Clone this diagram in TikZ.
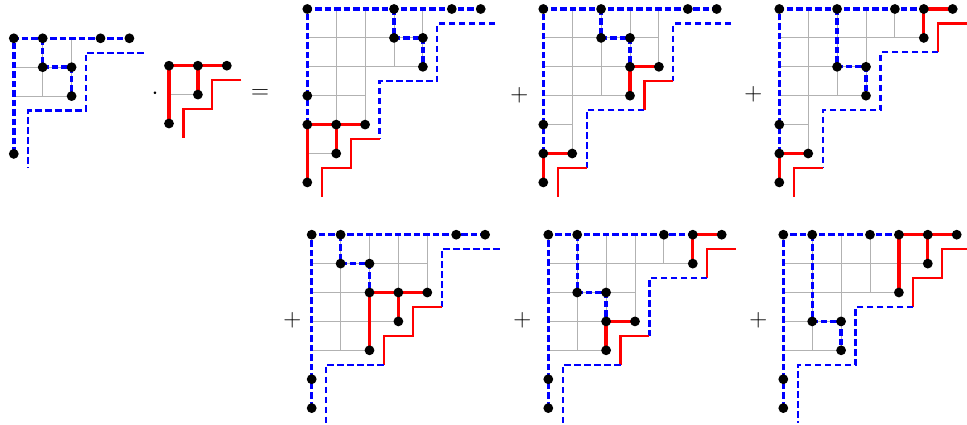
\documentclass[tikz,border=0pt]{standalone}
\begin{document}
\begin{tikzpicture}[x=1pt,y=-1pt,
 gridl/.style={gray!60, line width=1pt},
 bthick/.style={blue, line width=3.4pt, dash pattern=on 6.5pt off 3pt},
 rthick/.style={red, line width=3.3pt},
 bthin/.style={blue, line width=2.2pt, dash pattern=on 6.5pt off 3.5pt},
 rthin/.style={red, line width=2.2pt},
 sym/.style={font=\fontsize{26}{30}\selectfont, inner sep=0pt}]
\newcommand\pdgrid[2]{%
  \foreach \m [count=\r] in {#1} \draw[gridl] (0,\r) -- (\m,\r);
  \foreach \h [count=\c] in {#2} \draw[gridl] (\c,0) -- (\c,\h);}
\newcommand\pddots[1]{\foreach \p in {#1} \fill[black] \p circle (4.9pt);}
\path[use as bounding box] (0,0) rectangle (967,425);

% first factor
\begin{scope}[shift={(13.8pt,-38.3pt)}, x=28.9pt, y=-28.9pt]
 \pdgrid{2,2}{2,2}
 \draw[bthick] (0,4) -- (0,0) -- (4,0);
 \draw[bthick] (1,0) -- (1,1) -- (2,1) -- (2,2);
 \draw[bthin] (4.5,.5) -- (2.5,.5) -- (2.5,2.5) -- (.5,2.5) -- (.5,4.5);
 \pddots{(0,0),(1,0),(3,0),(4,0),(1,1),(2,1),(2,2),(0,4)}
\end{scope}

\node[sym] (dot) at (155,94) {$\cdot$};

% second factor
\begin{scope}[shift={(169pt,-65.7pt)}, x=28.9pt, y=-28.9pt]
 \pdgrid{1}{1}
 \draw[rthick] (0,2) -- (0,0) -- (2,0);
 \draw[rthick] (1,0) -- (1,1);
 \draw[rthin] (2.5,.5) -- (1.5,.5) -- (1.5,1.5) -- (.5,1.5) -- (.5,2.5);
 \pddots{(0,0),(1,0),(2,0),(1,1),(0,2)}
\end{scope}

\node[sym] (eq) at (260,94) {$=$};

% D3
\begin{scope}[shift={(307.3pt,-9pt)}, x=28.9pt, y=-28.9pt]
 \pdgrid{4,4,2,2,1}{5,4,2,2}
 \draw[bthick] (0,4) -- (0,0) -- (6,0);
 \draw[bthick] (3,0) -- (3,1) -- (4,1) -- (4,2);
 \draw[rthick] (0,6) -- (0,4) -- (2,4);
 \draw[rthick] (1,4) -- (1,5);
 \draw[bthin] (6.5,.5) -- (4.5,.5) -- (4.5,2.5) -- (2.5,2.5) -- (2.5,4.5);
 \draw[rthin] (2.5,4.5) -- (1.5,4.5) -- (1.5,5.5) -- (.5,5.5) -- (.5,6.5);
 \pddots{(0,0),(3,0),(5,0),(6,0),(3,1),(4,1),(4,2),(0,3),(0,4),(1,4),(2,4),(1,5),(0,6)}
\end{scope}

\node[sym] (p1) at (519.3,95) {$+$};

% D4
\begin{scope}[shift={(543.3pt,-9pt)}, x=28.9pt, y=-28.9pt]
 \pdgrid{4,4,3,1,1}{5,3,3,2}
 \draw[bthick] (0,5) -- (0,0) -- (6,0);
 \draw[bthick] (2,0) -- (2,1) -- (3,1) -- (3,2);
 \draw[rthick] (4,2) -- (3,2) -- (3,3);
 \draw[rthick] (1,5) -- (0,5) -- (0,6);
 \draw[bthin] (6.5,.5) -- (4.5,.5) -- (4.5,2.5);
 \draw[rthin] (4.5,2.5) -- (3.5,2.5) -- (3.5,3.5);
 \draw[bthin] (3.5,3.5) -- (1.5,3.5) -- (1.5,5.5);
 \draw[rthin] (1.5,5.5) -- (.5,5.5) -- (.5,6.5);
 \pddots{(0,0),(2,0),(5,0),(6,0),(2,1),(3,1),(3,2),(4,2),(3,3),(0,4),(0,5),(1,5),(0,6)}
\end{scope}

\node[sym] (p2) at (753.3,94.3) {$+$};

% D5
\begin{scope}[shift={(779.3pt,-9pt)}, x=28.9pt, y=-28.9pt]
 \pdgrid{5,3,3,1,1}{5,3,3,1,1}
 \draw[bthick] (0,5) -- (0,0) -- (5,0);
 \draw[bthick] (2,0) -- (2,2) -- (3,2) -- (3,3);
 \draw[rthick] (6,0) -- (5,0) -- (5,1);
 \draw[rthick] (1,5) -- (0,5) -- (0,6);
 \draw[rthin] (6.5,.5) -- (5.5,.5) -- (5.5,1.5);
 \draw[bthin] (5.5,1.5) -- (3.5,1.5) -- (3.5,3.5) -- (1.5,3.5) -- (1.5,5.5);
 \draw[rthin] (1.5,5.5) -- (.5,5.5) -- (.5,6.5);
 \pddots{(0,0),(2,0),(4,0),(5,0),(6,0),(5,1),(2,2),(3,2),(3,3),(0,4),(0,5),(1,5),(0,6)}
\end{scope}

\node[sym] (p3) at (292.3,320) {$+$};

% D6
\begin{scope}[shift={(311.7pt,-234.7pt)}, x=28.9pt, y=-28.9pt]
 \pdgrid{4,4,3,2}{4,4,3,2}
 \draw[bthick] (0,6) -- (0,0) -- (6,0);
 \draw[bthick] (1,0) -- (1,1) -- (2,1) -- (2,2);
 \draw[rthick] (4,2) -- (2,2) -- (2,4);
 \draw[rthick] (3,2) -- (3,3);
 \draw[bthin] (6.5,.5) -- (4.5,.5) -- (4.5,2.5);
 \draw[rthin] (4.5,2.5) -- (3.5,2.5) -- (3.5,3.5) -- (2.5,3.5) -- (2.5,4.5);
 \draw[bthin] (2.5,4.5) -- (.5,4.5) -- (.5,6.5);
 \pddots{(0,0),(1,0),(5,0),(6,0),(1,1),(2,1),(2,2),(3,2),(4,2),(3,3),(2,4),(0,5),(0,6)}
\end{scope}

\node[sym] (p4) at (522.3,320) {$+$};

% D7
\begin{scope}[shift={(548.3pt,-234.7pt)}, x=28.9pt, y=-28.9pt]
 \pdgrid{5,3,3,2}{4,4,3,1,1}
 \draw[bthick] (0,6) -- (0,0) -- (5,0);
 \draw[bthick] (1,0) -- (1,2) -- (2,2) -- (2,3);
 \draw[rthick] (6,0) -- (5,0) -- (5,1);
 \draw[rthick] (3,3) -- (2,3) -- (2,4);
 \draw[rthin] (6.5,.5) -- (5.5,.5) -- (5.5,1.5);
 \draw[bthin] (5.5,1.5) -- (3.5,1.5) -- (3.5,3.5);
 \draw[rthin] (3.5,3.5) -- (2.5,3.5) -- (2.5,4.5);
 \draw[bthin] (2.5,4.5) -- (.5,4.5) -- (.5,6.5);
 \pddots{(0,0),(1,0),(4,0),(5,0),(6,0),(5,1),(1,2),(2,2),(2,3),(3,3),(2,4),(0,5),(0,6)}
\end{scope}

\node[sym] (p5) at (758.3,320) {$+$};

% D8
\begin{scope}[shift={(783.3pt,-234.7pt)}, x=28.9pt, y=-28.9pt]
 \pdgrid{5,4,2,2}{4,4,2,2,1}
 \draw[bthick] (0,6) -- (0,0) -- (4,0);
 \draw[bthick] (1,0) -- (1,3) -- (2,3) -- (2,4);
 \draw[rthick] (6,0) -- (4,0) -- (4,2);
 \draw[rthick] (5,0) -- (5,1);
 \draw[rthin] (6.5,.5) -- (5.5,.5) -- (5.5,1.5) -- (4.5,1.5) -- (4.5,2.5);
 \draw[bthin] (4.5,2.5) -- (2.5,2.5) -- (2.5,4.5) -- (.5,4.5) -- (.5,6.5);
 \pddots{(0,0),(1,0),(3,0),(4,0),(5,0),(6,0),(5,1),(4,2),(1,3),(2,3),(2,4),(0,5),(0,6)}
\end{scope}
\end{tikzpicture}
\end{document}
